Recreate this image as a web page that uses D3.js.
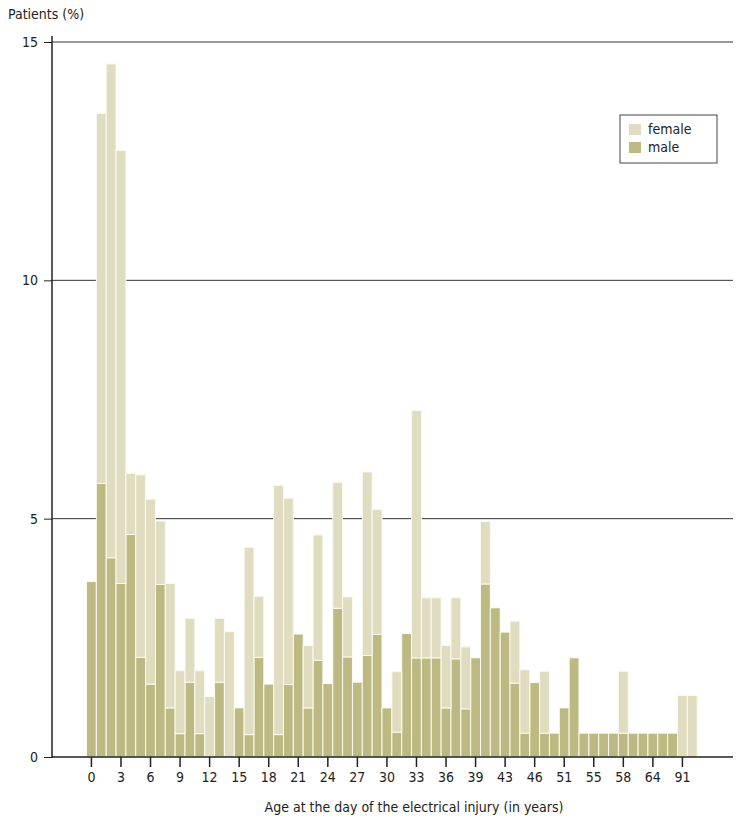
<!DOCTYPE html>
<html>
<head>
<meta charset="utf-8">
<script src="https://cdn.jsdelivr.net/npm/d3@7"></script>
<style>
  body { margin: 0; background: #fff; }
  svg text { font-family: "Liberation Sans Narrow", "DejaVu Sans Condensed", sans-serif; fill: #222; }
</style>
</head>
<body>
<div id="chart"></div>
<script>
// age categories (only every 3rd is labelled on the axis)
const ages = [
  "0","1","2","3","4","5","6","7","8","9","10","11","12","13","14","15","16","17","18","19",
  "20","21","22","23","24","25","26","27","28","29","30","31","32","33","34","35","36","37","38","39",
  "40","41","43","44","45","46","47","49","51","52","53","55","56","57","58","60","62","64","70","80",
  "91","92"
];

// % of male patients per age
const male = [
  3.68,5.74,4.18,3.64,4.67,2.09,1.53,3.62,1.03,0.49,1.57,0.49,0,1.57,0,1.03,0.47,2.09,1.53,0.47,
  1.52,2.58,1.03,2.03,1.54,3.12,2.10,1.57,2.13,2.57,1.03,0.52,2.59,2.08,2.08,2.08,1.03,2.06,1.01,2.08,
  3.63,3.13,2.62,1.55,0.50,1.56,0.50,0.50,1.03,2.08,0.50,0.50,0.50,0.50,0.50,0.50,0.50,0.50,0.50,0.50,
  0,0
];

// % of female patients per age (stacked on top of male)
const female = [
  0,7.76,10.36,9.09,1.28,3.83,3.88,1.33,2.61,1.32,1.34,1.32,1.27,1.34,2.63,0,3.93,1.28,0,5.23,
  3.91,0,1.31,2.63,0,2.64,1.26,0,3.85,2.62,0,1.27,0,5.19,1.26,1.26,1.31,1.28,1.30,0,
  1.31,0,0,1.30,1.33,0,1.30,0,0,0,0,0,0,0,1.30,0,0,0,0,0,
  1.29,1.29
];

const yTicks = [0, 5, 10, 15];

const colors = { female: "#e0dcbf", male: "#bdb983" };

const width = 737, height = 824;
const axisX = 52, plotRight = 733;

const svg = d3.select("#chart").append("svg")
  .attr("width", width)
  .attr("height", height);

const x = d3.scaleBand()
  .domain(ages)
  .range([86.5, 697.2])
  .padding(0);

const y = d3.scaleLinear()
  .domain([0, 15])
  .range([757, 42]);

// gridlines
svg.append("g")
  .selectAll("line")
  .data(yTicks.filter(d => d > 0))
  .join("line")
  .attr("x1", axisX).attr("x2", plotRight)
  .attr("y1", d => y(d)).attr("y2", d => y(d))
  .attr("stroke", "#333").attr("stroke-width", 1);

// stacked bars
const rows = ages.map((a, i) => ({ age: a, male: male[i], female: female[i] }));
const stack = d3.stack().keys(["male", "female"])(rows);

svg.append("g")
  .selectAll("g")
  .data(stack)
  .join("g")
  .attr("fill", d => colors[d.key])
  .selectAll("rect")
  .data(d => d.filter(s => s[1] - s[0] > 0))
  .join("rect")
  .attr("x", d => x(d.data.age))
  .attr("width", x.bandwidth())
  .attr("y", d => y(d[1]))
  .attr("height", d => y(d[0]) - y(d[1]))
  .attr("stroke", "#fbfaf0")
  .attr("stroke-width", 1);

// y axis
const yAxis = svg.append("g")
  .attr("transform", `translate(${axisX},0)`)
  .call(d3.axisLeft(y).tickValues(yTicks).tickSize(8).tickPadding(6).tickFormat(d3.format("d")));
yAxis.select(".domain").remove();
yAxis.selectAll(".tick line").attr("stroke", "#222");
yAxis.selectAll(".tick text").style("font-size", "14px");
svg.append("line")
  .attr("x1", axisX).attr("x2", axisX)
  .attr("y1", 36).attr("y2", 758)
  .attr("stroke", "#222").attr("stroke-width", 1.5);

// x axis
svg.append("line")
  .attr("x1", axisX).attr("x2", plotRight)
  .attr("y1", y(0)).attr("y2", y(0))
  .attr("stroke", "#222").attr("stroke-width", 1.5);

const xAxis = svg.append("g")
  .attr("transform", `translate(0,${y(0)})`)
  .call(d3.axisBottom(x)
    .tickValues(ages.filter((d, i) => i % 3 === 0))
    .tickSize(10).tickPadding(5));
xAxis.select(".domain").remove();
xAxis.selectAll(".tick line").attr("stroke", "#222").attr("stroke-width", 1.5);
xAxis.selectAll(".tick text").style("font-size", "14px");

// titles
svg.append("text")
  .attr("x", 8).attr("y", 19)
  .style("font-size", "14px")
  .text("Patients (%)");

svg.append("text")
  .attr("x", 414).attr("y", 812)
  .attr("text-anchor", "middle")
  .style("font-size", "14px")
  .text("Age at the day of the electrical injury (in years)");

// legend
const legend = svg.append("g").attr("transform", "translate(620,115)");
legend.append("rect")
  .attr("width", 97).attr("height", 48)
  .attr("fill", "#fff").attr("stroke", "#444").attr("stroke-width", 1);
const legendData = [
  { label: "female", color: colors.female },
  { label: "male", color: colors.male }
];
legend.selectAll("rect.sw")
  .data(legendData)
  .join("rect")
  .attr("class", "sw")
  .attr("x", 9).attr("y", (d, i) => 9 + i * 18)
  .attr("width", 12).attr("height", 11)
  .attr("fill", d => d.color);
legend.selectAll("text")
  .data(legendData)
  .join("text")
  .attr("x", 28).attr("y", (d, i) => 19 + i * 18)
  .style("font-size", "14px")
  .text(d => d.label);
</script>
</body>
</html>
